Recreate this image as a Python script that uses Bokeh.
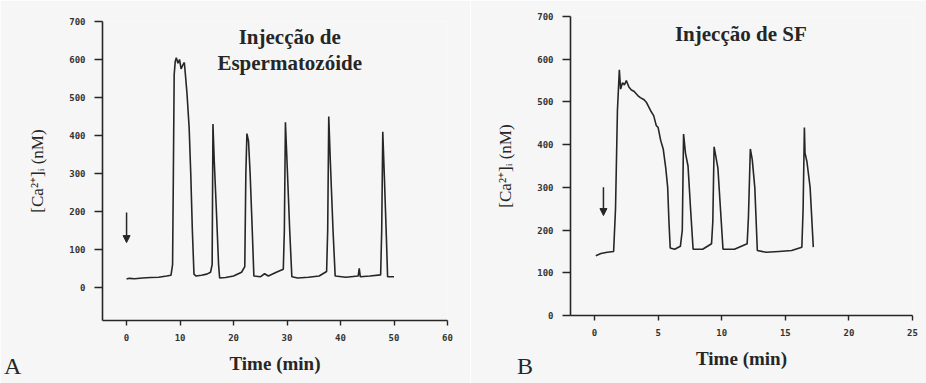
from bokeh.plotting import figure
from bokeh.layouts import row, column
from bokeh.models import Range1d, FixedTicker, Label, Arrow, NormalHead, Div
from bokeh.embed import file_html
from bokeh.resources import INLINE

# ---------------- data ----------------
# Panel A: sperm injection
time_A = [0, 0.5, 1.5, 3, 4.5, 6, 7.5, 8.3, 8.6, 8.75, 8.9, 9.1, 9.3, 9.6, 9.9, 10.2, 10.5, 10.8,
          11.0, 11.3, 11.7, 12.0, 12.3, 12.6, 13.0, 14.0, 15.0, 15.7, 16.0, 16.15, 16.4, 16.8,
          17.2, 17.4, 18.5, 20.0, 21.5, 22.1, 22.3, 22.5, 22.8, 23.1, 23.5, 23.8, 25.0, 25.8,
          26.5, 28.0, 29.3, 29.5, 29.7, 30.0, 30.5, 30.9, 32.0, 34.0, 36.0, 37.4, 37.6, 37.8,
          38.1, 38.6, 39.0, 41.0, 43.3, 43.5, 43.7, 45.5, 47.5, 47.7, 47.9, 48.2, 48.6, 48.8, 50.0]
ca_A = [22, 24, 23, 25, 26, 27, 30, 32, 60, 300, 560, 595, 605, 590, 600, 575, 585, 592,
        560, 510, 420, 300, 150, 35, 30, 32, 35, 40, 60, 430, 330, 200,
        60, 25, 26, 30, 40, 55, 300, 405, 385, 300, 150, 30, 28, 36,
        30, 40, 48, 150, 435, 330, 150, 28, 25, 27, 30, 42, 150, 450,
        330, 150, 30, 27, 30, 50, 28, 30, 33, 150, 410, 290, 120, 28, 28]

# Panel B: SF injection
time_B = [0.1, 0.5, 1.0, 1.5, 1.65, 1.8, 1.95, 2.05, 2.2, 2.35, 2.5, 2.7, 2.9, 3.1, 3.4, 3.6,
          3.9, 4.1, 4.4, 4.65, 4.85, 5.0, 5.2, 5.4, 5.6, 5.75, 5.85, 5.95, 6.3, 6.75, 6.9, 7.0,
          7.15, 7.35, 7.55, 7.75, 8.5, 9.2, 9.3, 9.4, 9.55, 9.7, 9.9, 10.1, 11.0, 12.0, 12.1,
          12.25, 12.4, 12.6, 12.8, 13.5, 14.5, 15.5, 16.3, 16.4, 16.5, 16.55, 16.7, 16.95, 17.2]
ca_B = [140, 145, 148, 150, 250, 480, 575, 530, 545, 540, 550, 535, 528, 525, 515, 510,
        505, 498, 480, 468, 445, 440, 410, 390, 345, 300, 220, 158, 155, 162, 200, 425,
        380, 350, 250, 155, 155, 168, 220, 395, 370, 345, 250, 155, 155, 168, 230,
        390, 365, 300, 152, 148, 150, 152, 160, 250, 440, 380, 360, 300, 160]

y_ticks = [0, 100, 200, 300, 400, 500, 600, 700]
x_ticks_A = [0, 10, 20, 30, 40, 50, 60]
x_ticks_B = [0, 5, 10, 15, 20, 25]

# arrows marking the injection: [time, start value, end value]
arrow_A = [0.0, 197, 118]
arrow_B = [0.7, 300, 234]

title_A = ["Injecção de", "Espermatozóide"]
title_B = "Injecção de SF"
x_label = "Time (min)"
y_label = "[Ca²⁺]ᵢ (nM)"
panel_letters = ["A", "B"]

# ---------------- style ----------------
BG = "#f6f6f6"
INK = "#262626"
SERIF = "Liberation Serif"


def style(p, xticks):
    p.background_fill_color = BG
    p.border_fill_color = BG
    p.outline_line_color = None
    p.grid.visible = False
    for ax in (p.xaxis[0], p.yaxis[0]):
        ax.axis_line_color = INK
        ax.axis_line_width = 1.6
        ax.major_tick_line_color = INK
        ax.major_tick_line_width = 1.4
        ax.minor_tick_line_color = None
        ax.major_tick_in = 0
        ax.major_label_text_font = "DejaVu Sans Mono"
        ax.major_label_text_font_style = "bold"
        ax.major_label_text_font_size = "9px"
        ax.major_label_text_color = "#333333"
        ax.axis_label_text_color = INK
        ax.axis_label_text_font = SERIF
    p.xaxis[0].ticker = FixedTicker(ticks=xticks)
    p.yaxis[0].ticker = FixedTicker(ticks=y_ticks)
    p.xaxis[0].major_tick_out = 5
    p.xaxis[0].major_label_standoff = 8
    p.yaxis[0].major_tick_out = 8
    p.yaxis[0].major_label_standoff = 9
    p.xaxis[0].axis_label = x_label
    p.xaxis[0].axis_label_text_font_style = "bold"
    p.xaxis[0].axis_label_text_font_size = "19px"
    p.xaxis[0].axis_label_standoff = 9
    p.yaxis[0].axis_label = y_label
    p.yaxis[0].axis_label_text_font_style = "normal"
    p.yaxis[0].axis_label_text_font_size = "17px"
    p.yaxis[0].axis_label_standoff = 19


def letter_div(txt, left):
    return Div(text=f'<div style="font-family:\'Liberation Serif\';font-size:24px;'
                    f'line-height:24px;color:{INK};">{txt}</div>',
               width=30, height=24, margin=(-29, 0, 0, left),
               styles={"position": "relative", "z-index": "10"})


# ---------------- panel A ----------------
pA = figure(width=470, height=383, output_backend="svg", toolbar_location=None,
            x_range=Range1d(-4.5, 60), y_range=Range1d(-87, 700),
            min_border_left=102, min_border_right=23, min_border_top=21, min_border_bottom=63)
style(pA, x_ticks_A)
pA.line(time_A, ca_A, line_color=INK, line_width=1.6)
pA.add_layout(Arrow(end=NormalHead(size=7, fill_color=INK, line_color=INK),
                    x_start=arrow_A[0], y_start=arrow_A[1], x_end=arrow_A[0], y_end=arrow_A[2],
                    line_color=INK, line_width=1.5))
pA.add_layout(Label(x=30.5, y=658, text=title_A[0], text_align="center", text_baseline="alphabetic",
                    text_font=SERIF, text_font_style="bold", text_font_size="21px", text_color=INK))
pA.add_layout(Label(x=30.5, y=592, text=title_A[1], text_align="center", text_baseline="alphabetic",
                    text_font=SERIF, text_font_style="bold", text_font_size="21px", text_color=INK))

# ---------------- panel B ----------------
pB = figure(width=456, height=383, output_backend="svg", toolbar_location=None,
            x_range=Range1d(-1.89, 25), y_range=Range1d(0, 700),
            min_border_left=100, min_border_right=14, min_border_top=16, min_border_bottom=68)
style(pB, x_ticks_B)
pB.line(time_B, ca_B, line_color=INK, line_width=1.6)
pB.add_layout(Arrow(end=NormalHead(size=7, fill_color=INK, line_color=INK),
                    x_start=arrow_B[0], y_start=arrow_B[1], x_end=arrow_B[0], y_end=arrow_B[2],
                    line_color=INK, line_width=1.5))
pB.add_layout(Label(x=11.5, y=660, text=title_B, text_align="center", text_baseline="alphabetic",
                    text_font=SERIF, text_font_style="bold", text_font_size="21px", text_color=INK))

layout = row(column(pA, letter_div(panel_letters[0], 4)),
             column(pB, letter_div(panel_letters[1], 47)))
open("out.html", "w").write(file_html(layout, INLINE))
